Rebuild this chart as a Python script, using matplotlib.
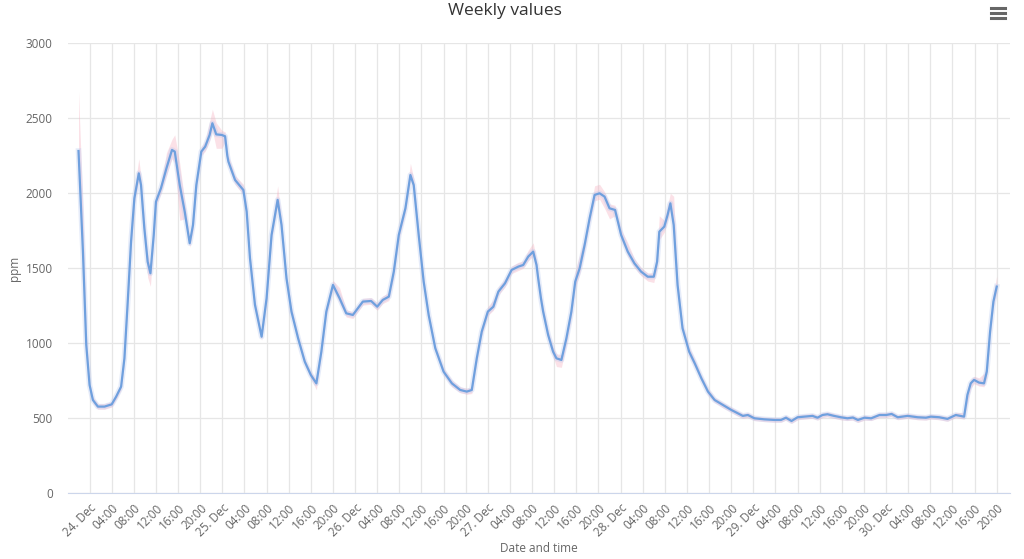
import numpy as np
import matplotlib
matplotlib.use("Agg")
import matplotlib.pyplot as plt
from matplotlib.lines import Line2D

# hours after 24 Dec 00:00, mean ppm and min/max range
hours = [-2.0, -1.2, -0.6, 0.0, 0.6, 1.5, 2.7, 4.0, 4.8, 5.7, 6.3, 6.9, 7.5, 8.1, 8.9, 9.3,
         9.9, 10.5, 11.0, 11.6, 12.0, 12.9, 13.9, 14.9, 15.4, 16.3, 17.2, 18.1, 18.7, 19.3,
         20.2, 20.9, 21.7, 22.2, 22.9, 23.9, 24.5, 24.9, 25.1, 26.3, 27.8, 28.4, 29.0, 29.9,
         31.1, 32.0, 32.9, 34.0, 34.7, 35.6, 36.5, 37.7, 38.9, 40.0, 41.0, 41.9, 42.8, 44.0,
         45.2, 46.4, 47.6, 48.5, 49.4, 50.9, 52.0, 53.0, 54.1, 55.0, 55.9, 57.1, 58.0, 58.6,
         59.5, 60.4, 61.3, 62.5, 64.0, 65.5, 67.0, 68.2, 69.1, 70.0, 70.9, 72.0, 73.0, 73.9,
         75.1, 76.3, 77.5, 78.4, 79.3, 80.2, 80.8, 81.1, 81.6, 82.0, 82.9, 83.8, 84.4, 85.3,
         86.2, 87.1, 87.8, 88.6, 89.5, 90.4, 91.3, 92.2, 93.1, 94.0, 95.0, 96.1, 97.3, 98.5,
         99.7, 100.9, 102.0, 102.6, 103.0, 103.9, 104.5, 105.0, 105.6, 106.3, 107.2, 108.4,
         109.4, 110.6, 111.8, 113.0, 114.5, 116.0, 117.2, 118.1, 119.0, 120.2, 122.0, 123.8,
         125.0, 125.9, 126.9, 128.0, 129.2, 130.7, 131.6, 132.5, 133.4, 134.6, 135.8, 137.0,
         138.0, 138.9, 140.1, 141.3, 142.8, 144.0, 145.0, 146.1, 147.9, 149.7, 151.2, 152.1,
         153.6, 155.1, 156.6, 158.1, 158.7, 159.3, 159.9, 160.8, 161.7, 162.2, 162.8, 163.4,
         164.0]

ppm = [2282, 1611, 989, 722, 622, 578, 578, 593, 644, 711, 900, 1278, 1678, 1967, 2133, 2055,
       1767, 1544, 1467, 1722, 1944, 2033, 2167, 2289, 2278, 2055, 1878, 1667, 1789, 2055,
       2278, 2311, 2389, 2467, 2393, 2389, 2380, 2250, 2211, 2089, 2022, 1878, 1567, 1256,
       1044, 1300, 1722, 1956, 1789, 1433, 1211, 1033, 878, 789, 733, 944, 1211, 1389,
       1300, 1200, 1189, 1233, 1278, 1282, 1244, 1289, 1311, 1478, 1722, 1900, 2122, 2055,
       1722, 1411, 1189, 967, 811, 733, 689, 678, 689, 900, 1078, 1211, 1244, 1344,
       1400, 1489, 1511, 1522, 1578, 1611, 1522, 1433, 1300, 1211, 1056, 944, 900, 889,
       1033, 1211, 1411, 1500, 1656, 1833, 1989, 2000, 1978, 1900, 1889, 1722, 1611, 1533,
       1478, 1444, 1444, 1544, 1744, 1778, 1856, 1933, 1789, 1389, 1100, 944,
       867, 767, 678, 622, 589, 556, 533, 516, 522, 500, 493, 489,
       489, 504, 482, 507, 511, 516, 504, 522, 527, 516, 507, 500,
       505, 489, 504, 500, 522, 522, 529, 507, 516, 507, 504, 511,
       507, 496, 522, 511, 656, 733, 756, 738, 733, 811, 1078, 1278,
       1378]

ppm_low = [2180, 1480, 950, 700, 600, 560, 560, 575, 625, 690, 870, 1240, 1630, 1930, 2090, 2000,
           1700, 1440, 1380, 1690, 1910, 2000, 2120, 2230, 2200, 1820, 1830, 1640, 1750, 2020,
           2250, 2280, 2350, 2420, 2300, 2300, 2340, 2210, 2180, 2060, 1990, 1840, 1530, 1220,
           1020, 1270, 1690, 1920, 1750, 1400, 1185, 1010, 855, 765, 690, 915, 1180, 1360,
           1270, 1175, 1165, 1210, 1255, 1260, 1220, 1265, 1285, 1440, 1690, 1870, 2090, 2020,
           1690, 1380, 1165, 945, 790, 710, 670, 660, 665, 870, 1050, 1185, 1220, 1320,
           1375, 1465, 1485, 1500, 1550, 1580, 1490, 1400, 1270, 1180, 1025, 910, 845, 840,
           990, 1170, 1370, 1460, 1620, 1800, 1950, 1960, 1900, 1830, 1850, 1690, 1580, 1505,
           1450, 1415, 1405, 1500, 1690, 1740, 1820, 1890, 1740, 1350, 1070, 915,
           840, 745, 655, 605, 570, 540, 515, 500, 505, 485, 478, 474,
           474, 488, 466, 490, 495, 500, 488, 505, 510, 500, 490, 485,
           488, 472, 488, 485, 505, 505, 512, 490, 500, 490, 488, 495,
           490, 480, 505, 495, 600, 700, 730, 715, 710, 770, 1040, 1240,
           1340]

ppm_high = [2680, 1900, 1080, 745, 645, 598, 598, 612, 665, 735, 930, 1320, 1720, 2020, 2230, 2110,
            1830, 1600, 1510, 1760, 1980, 2070, 2270, 2360, 2390, 2200, 1950, 1700, 1820, 2090,
            2310, 2350, 2480, 2560, 2470, 2420, 2410, 2290, 2250, 2120, 2060, 1920, 1600, 1290,
            1070, 1330, 1760, 2050, 1830, 1460, 1240, 1060, 900, 810, 760, 975, 1245, 1420,
            1370, 1225, 1210, 1255, 1300, 1305, 1270, 1315, 1340, 1510, 1760, 1940, 2200, 2100,
            1760, 1440, 1215, 990, 835, 755, 710, 700, 710, 930, 1110, 1245, 1290, 1375,
            1430, 1515, 1540, 1550, 1620, 1670, 1560, 1470, 1335, 1245, 1090, 975, 930, 925,
            1070, 1260, 1480, 1590, 1700, 1870, 2050, 2060, 2010, 1930, 1920, 1760, 1670, 1565,
            1505, 1470, 1470, 1600, 1850, 1820, 1920, 2000, 1980, 1430, 1130, 975,
            895, 790, 700, 640, 605, 575, 550, 532, 538, 515, 508, 504,
            504, 520, 498, 522, 527, 532, 520, 538, 543, 532, 522, 515,
            520, 505, 520, 515, 538, 538, 545, 522, 532, 522, 520, 527,
            522, 512, 538, 540, 700, 760, 780, 770, 800, 850, 1120, 1330,
            1450]

tick_hours = list(range(0, 168, 4))
tick_labels = [f"{24 + h // 24}. Dec" if h % 24 == 0 else f"{h % 24:02d}:00" for h in tick_hours]

plt.rcParams['font.family'] = ['Open Sans', 'DejaVu Sans']

fig = plt.figure(figsize=(10.24, 5.59), dpi=100)
ax = fig.add_axes([68 / 1024, 1 - 493.3 / 559, (1010 - 68) / 1024, 450 / 559])

ax.fill_between(hours, ppm_low, ppm_high, color='#f5b5c4', alpha=0.4, lw=0, zorder=2)
ax.plot(hours, ppm, color='#b9c9f0', lw=4, alpha=0.35, solid_joinstyle='round', zorder=3)
ax.plot(hours, ppm, color='#6fa0de', lw=1.6, solid_joinstyle='round', zorder=4)

ax.set_xlim(-3.9, 166.4)
ax.set_ylim(0, 3000)
ax.set_yticks(range(0, 3001, 500))
ax.set_xticks(tick_hours)
ax.set_xticklabels(tick_labels, rotation=45, ha='right', va='top', rotation_mode='anchor')

ax.grid(True, color='#e6e6e6', lw=0.9)
ax.set_axisbelow(True)
for s in ['top', 'right', 'left']:
    ax.spines[s].set_visible(False)
ax.spines['bottom'].set_color('#ccd6eb')
ax.tick_params(axis='both', length=0, colors='#666666', labelsize=8.5)
ax.tick_params(axis='x', pad=6)
ax.tick_params(axis='y', pad=11)

fig.text(15 / 1024, 1 - 268 / 559, 'ppm', ha='center', va='center', rotation=90,
         color='#666666', fontsize=8.5)
fig.text(539 / 1024, 1 - 548 / 559, 'Date and time', ha='center', va='center',
         color='#666666', fontsize=8.5)
fig.text(505 / 1024, 1 - 11 / 559, 'Weekly values', ha='center', va='center',
         color='#333333', fontsize=12.5)

# menu icon
for yy in [8, 13, 18]:
    fig.add_artist(Line2D([991 / 1024, 1005 / 1024], [1 - yy / 559] * 2,
                          color='#666666', lw=2.2, transform=fig.transFigure))

fig.savefig('out.png', dpi=100)
